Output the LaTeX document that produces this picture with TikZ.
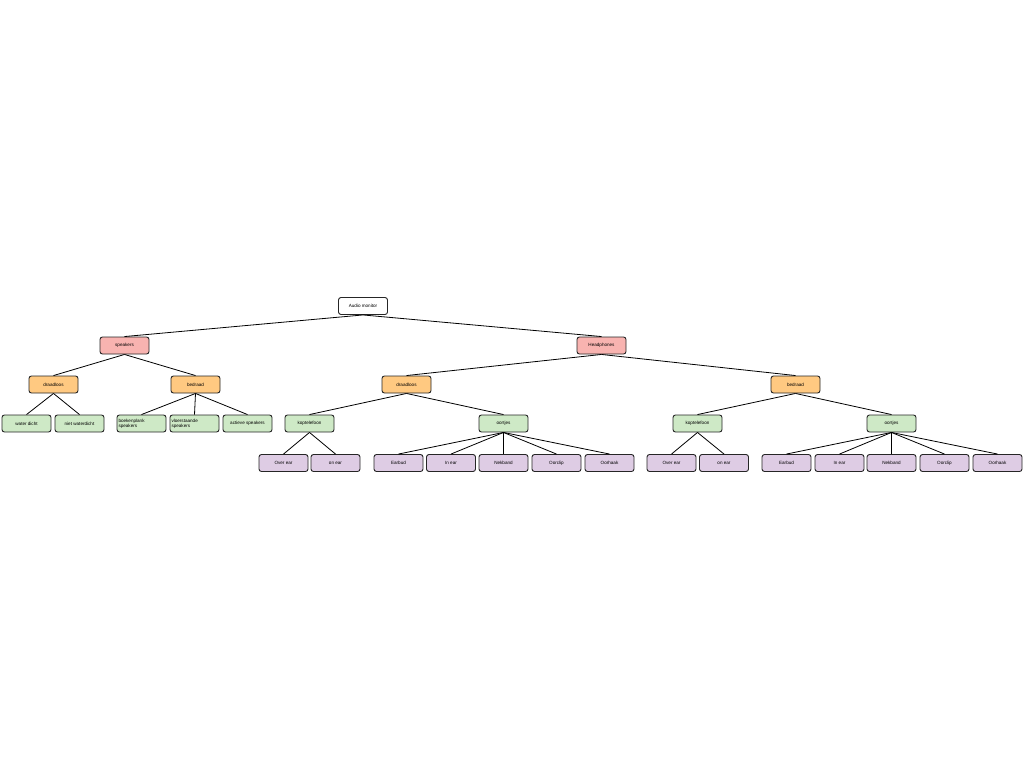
\documentclass[tikz,border=0pt]{standalone}
\usepackage{fontspec}
\setmainfont{Liberation Sans}
\definecolor{cpink}{HTML}{F8B3B0}
\definecolor{corange}{HTML}{FFC981}
\definecolor{cgreen}{HTML}{CEE9C6}
\definecolor{cpurple}{HTML}{DECCE4}
\begin{document}
\begin{tikzpicture}[x=1pt,y=-1pt,
  box/.style={draw=black!85,line width=0.9pt,rounded corners=2.5pt,minimum width=49pt,minimum height=17pt,inner sep=1pt,font=\fontsize{4.6}{5.2}\selectfont},
  root/.style={box,fill=white},
  lvA/.style={box,fill=cpink},
  lvB/.style={box,fill=corange},
  lvC/.style={box,fill=cgreen},
  lvD/.style={box,fill=cpurple},
  two/.style={text width=46pt,align=left},
  edge/.style={draw=black,line width=0.8pt}]
\useasboundingbox (0,0) rectangle (1024,768);
\node[root] (am) at (363,306) {Audio monitor};
\node[lvA] (sp) at (124.5,345.5) {speakers};
\node[lvA] (hp) at (601.5,345.5) {Headphones};
\node[lvB] (spd) at (53.5,384.5) {draadloos};
\node[lvB] (spb) at (195.5,384.5) {bedraad};
\node[lvB] (hpd) at (406.5,384.5) {draadloos};
\node[lvB] (hpb) at (795.5,384.5) {bedraad};
\node[lvC] (wd) at (26.5,423.5) {water dicht};
\node[lvC] (nwd) at (79.5,423.5) {niet waterdicht};
\node[lvC,two] (bk) at (141.5,423.5) {boekenplank\\speakers};
\node[lvC,two] (vl) at (194.5,423.5) {vloerstaande\\speakers};
\node[lvC] (ac) at (247.5,423.5) {actieve speakers};
\node[lvC] (kl) at (309.5,423.5) {koptelefoon};
\node[lvC] (ol) at (503.5,423.5) {oortjes};
\node[lvC] (kr) at (697.5,423.5) {koptelefoon};
\node[lvC] (or) at (891.5,423.5) {oortjes};
\node[lvD] (a1) at (283.5,463) {Over ear};
\node[lvD] (a2) at (335.5,463) {on ear};
\node[lvD] (a3) at (398.5,463) {Earbud};
\node[lvD] (a4) at (451,463) {In ear};
\node[lvD] (a5) at (503.5,463) {Nekband};
\node[lvD] (a6) at (556.5,463) {Oorclip};
\node[lvD] (a7) at (609.5,463) {Oorhaak};
\node[lvD] (b1) at (671.5,463) {Over ear};
\node[lvD] (b2) at (724,463) {on ear};
\node[lvD] (b3) at (786.5,463) {Earbud};
\node[lvD] (b4) at (839.5,463) {In ear};
\node[lvD] (b5) at (891.5,463) {Nekband};
\node[lvD] (b6) at (944.5,463) {Oorclip};
\node[lvD] (b7) at (997.5,463) {Oorhaak};
\foreach \p/\c in {am/sp,am/hp,sp/spd,sp/spb,hp/hpd,hp/hpb,spd/wd,spd/nwd,spb/bk,spb/vl,spb/ac,hpd/kl,hpd/ol,hpb/kr,hpb/or,kl/a1,kl/a2,ol/a3,ol/a4,ol/a5,ol/a6,ol/a7,kr/b1,kr/b2,or/b3,or/b4,or/b5,or/b6,or/b7}
  \draw[edge] (\p.south) -- (\c.north);
\end{tikzpicture}
\end{document}
